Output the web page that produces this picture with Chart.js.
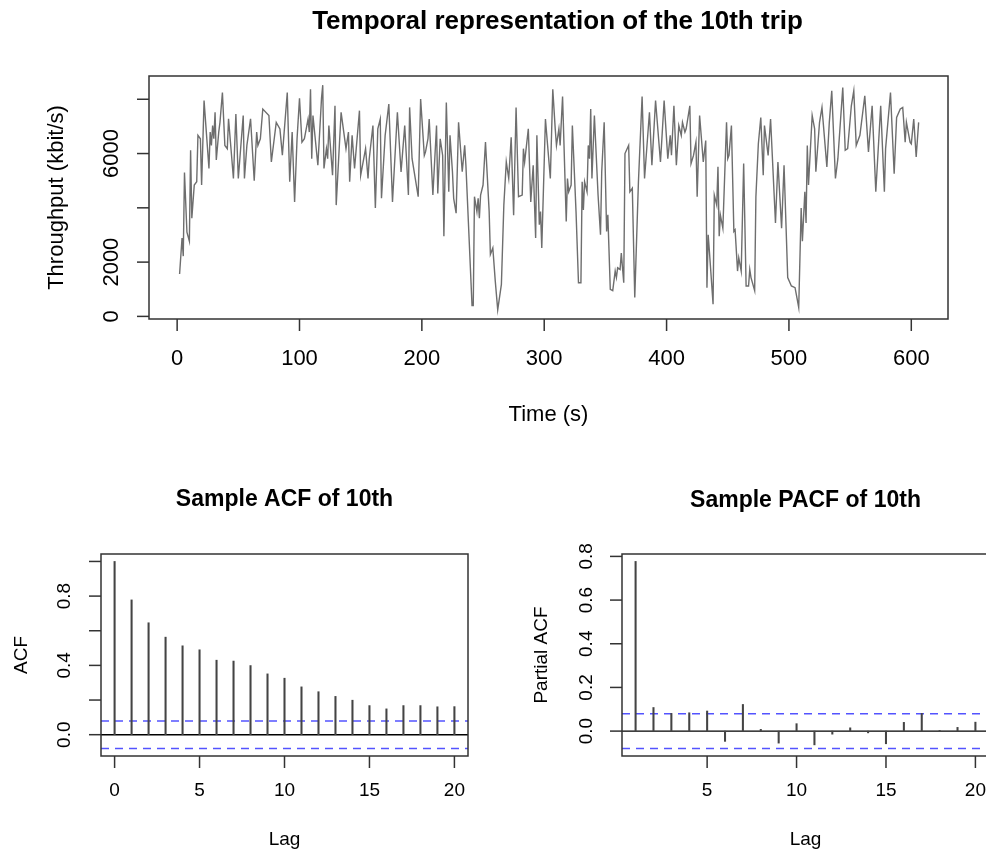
<!DOCTYPE html>
<html>
<head>
<meta charset="utf-8">
<script src="https://cdn.jsdelivr.net/npm/chart.js@4.4.0/dist/chart.umd.min.js"></script>
<style>
  body { margin: 0; background: #fff; }
  #wrap { position: relative; width: 986px; height: 855px; overflow: hidden; background: #fff; }
  canvas { position: absolute; }
</style>
</head>
<body>
<div id="wrap">
  <canvas id="ts" width="986" height="440" style="left:0;top:0;"></canvas>
  <canvas id="acf" width="493" height="415" style="left:0;top:440px;"></canvas>
  <canvas id="pacf" width="510" height="415" style="left:493px;top:440px;"></canvas>
</div>
<script>
// throughput of the 10th trip (seconds, kbit/s)
const tsTime = [2,4,5,6,8,10,11,12,14,16,17,19,20,22,26,27,28,29,30,31,32,34,35,37,39,41,42,46,48,50,54,55,57,60,63,65,66,68,70,75,77,81,84,86,90,92,94,96,
  98,100,102,104,107,108,109,110,111,115,118,119,120,122,123,124,127,129,130,134,138,140,141,143,145,149,150,154,156,157,160,162,164,166,167,170,173,176,180,183,186,189,190,192,197,199,202,203,
  205,206,209,212,213,215,217,218,220,222,223,225,226,228,230,233,235,236,241,242,243,245,246,247,248,250,252,255,256,258,260,262,265,267,269,271,273,275,277,279,282,283,284,287,289,291,293,294,296,297,298,301,305,307,309,
  310,312,313,315,318,319,320,322,323,326,328,330,331,332,333,335,336,337,338,339,341,344,346,347,349,351,352,354,356,358,359,360,362,363,365,366,369,370,372,374,377,380,382,386,388,391,395,396,398,401,403,404,406,408,410,412,413,415,
  416,419,420,422,424,425,427,430,432,433,434,435,438,439,441,442,443,444,446,449,450,451,453,455,456,458,459,461,463,465,467,468,469,472,473,475,477,479,480,483,485,489,491,494,496,499,502,505,508,510,511,513,514,515,516,519,521,
  522,525,527,531,533,535,538,540,544,546,548,551,553,555,558,562,565,568,571,575,578,579,583,586,588,591,593,595,596,599,600,602,604,606];
const tsThroughput = [1560,2890,2220,5300,3100,2770,6120,3620,4840,4960,6670,6545,4840,7950,5450,6790,6300,7030,6545,7520,5760,6790,7150,8250,6300,6180,7280,5080,7460,5080,7400,5080,6300,7280,5000,6790,6300,6545,7640,7400,5690,7150,6910,5940,8250,4960,6790,4220,
  6545,8040,6420,6545,7270,6790,8370,5810,7400,5570,8040,8520,5450,6180,5810,7030,5200,7760,4100,7520,6180,6790,4960,6670,5450,7580,5200,6180,5080,5810,7030,3990,6910,7270,4350,6670,7820,4220,7520,5320,7030,4470,7700,5810,4410,8010,5930,6060,
  6545,7270,4470,7030,4530,6545,5930,2950,7880,4590,6670,5330,4350,3800,7150,5330,6300,5570,400,400,4410,3860,4350,3620,4470,4840,6420,3860,2280,2520,1300,240,1180,4100,5690,5080,6600,3730,7700,4410,4470,6180,5690,6910,4220,5570,2890,6670,3380,3860,2520,7270,5080,8370,6910,
  6300,6910,6300,8100,3500,5080,4590,4840,7030,3860,1240,1240,4960,3920,4960,4590,6300,5810,7640,5080,7400,4470,3010,5330,7150,3130,3740,1000,950,1670,1430,1790,1730,2330,1240,6000,6300,4590,4720,700,4960,8100,5080,7520,5570,7950,5690,6420,7950,5810,6670,5940,7760,5570,7030,6670,7150,6790,
  6910,7760,5630,5930,6420,4410,7400,5690,6480,1060,3010,2400,450,4470,4100,5510,2950,3730,3250,7150,5810,5930,7030,3130,3190,1670,2160,1670,5630,1120,1120,1730,1430,950,4410,6360,7330,5200,7030,5930,7270,3440,5690,3250,5570,1430,1120,1060,330,3990,2770,4590,3440,6300,4840,7400,6910,
  5330,7150,7700,5510,7150,8310,5080,5810,8430,6120,6180,7760,8310,6300,6670,8130,6060,7760,4590,7760,4590,6180,8250,5260,7330,7640,7700,6420,7150,6420,6360,7270,5870,7150];
const tsXTicks = [0, 100, 200, 300, 400, 500, 600];
const tsYTicks = [0, 2000, 4000, 6000, 8000];
const tsYLabels = ['0', '2000', '', '6000', ''];

// sample ACF / PACF
const acfLags = [0,1,2,3,4,5,6,7,8,9,10,11,12,13,14,15,16,17,18,19,20];
const acfValues = [1.0,0.778,0.646,0.563,0.513,0.490,0.430,0.425,0.399,0.351,0.326,0.276,0.248,0.221,0.199,0.168,0.149,0.168,0.168,0.161,0.162];
const acfXTicks = [0, 5, 10, 15, 20];
const acfYTicks = [0, 0.2, 0.4, 0.6, 0.8, 1.0];
const acfYLabels = ['0.0', '', '0.4', '', '0.8', ''];

const pacfLags = [1,2,3,4,5,6,7,8,9,10,11,12,13,14,15,16,17,18,19,20];
const pacfValues = [0.777,0.108,0.081,0.084,0.092,-0.047,0.122,0.008,-0.055,0.034,-0.063,-0.014,0.015,-0.008,-0.058,0.040,0.081,0.003,0.017,0.041];
const pacfXTicks = [5, 10, 15, 20];
const pacfYTicks = [0, 0.2, 0.4, 0.6, 0.8];
const pacfYLabels = ['0.0', '0.2', '0.4', '0.6', '0.8'];

const confBound = 0.0797;

const FONT = '"Liberation Sans", Helvetica, Arial, sans-serif';

// R style frame: box, outward ticks, rotated y labels, titles
function rFrame(o) {
  return {
    id: 'rFrame',
    afterDraw(chart) {
      const ctx = chart.ctx, a = chart.chartArea, x = chart.scales.x, y = chart.scales.y;
      ctx.save();
      ctx.strokeStyle = '#333';
      ctx.lineWidth = 1.5;
      ctx.strokeRect(a.left, a.top, a.right - a.left, a.bottom - a.top);
      ctx.fillStyle = '#000';
      ctx.font = o.size + 'px ' + FONT;
      ctx.textAlign = 'center';
      ctx.textBaseline = 'middle';
      o.xTicks.forEach((v) => {
        const px = x.getPixelForValue(v);
        ctx.beginPath(); ctx.moveTo(px, a.bottom); ctx.lineTo(px, a.bottom + 12); ctx.stroke();
        ctx.fillText(String(v), px, a.bottom + o.xLabOff);
      });
      o.yTicks.forEach((v, i) => {
        const py = y.getPixelForValue(v);
        ctx.beginPath(); ctx.moveTo(a.left, py); ctx.lineTo(a.left - 12, py); ctx.stroke();
        if (o.yLabels[i]) {
          ctx.save();
          ctx.translate(a.left - o.yLabOff, py);
          ctx.rotate(-Math.PI / 2);
          ctx.fillText(o.yLabels[i], 0, 0);
          ctx.restore();
        }
      });
      const cx = (a.left + a.right) / 2, cy = (a.top + a.bottom) / 2;
      ctx.fillText(o.xTitle, cx, a.bottom + o.xTitleOff);
      ctx.save();
      ctx.translate(a.left - o.yTitleOff, cy);
      ctx.rotate(-Math.PI / 2);
      ctx.fillText(o.yTitle, 0, 0);
      ctx.restore();
      ctx.font = 'bold ' + o.titleSize + 'px ' + FONT;
      ctx.fillText(o.title, cx + (o.titleShift || 0), a.top - o.titleOff);
      ctx.restore();
    }
  };
}

const baseOpts = {
  responsive: false,
  animation: false,
  devicePixelRatio: 1,
  plugins: { legend: { display: false }, tooltip: { enabled: false } }
};

// top: time series
new Chart(document.getElementById('ts'), {
  type: 'line',
  data: {
    datasets: [{
      data: tsTime.map((t, i) => ({ x: t, y: tsThroughput[i] })),
      borderColor: '#6e6e6e',
      borderWidth: 1.4,
      pointRadius: 0,
      tension: 0
    }]
  },
  options: Object.assign({}, baseOpts, {
    layout: { padding: { left: 149, top: 76, right: 38, bottom: 121 } },
    scales: {
      x: { type: 'linear', min: -23, max: 630, display: false },
      y: { type: 'linear', min: -96, max: 8857, display: false }
    }
  }),
  plugins: [rFrame({
    size: 22, titleSize: 26, titleShift: 9,
    xTicks: tsXTicks, yTicks: tsYTicks, yLabels: tsYLabels,
    xLabOff: 40, yLabOff: 37, xTitleOff: 96, yTitleOff: 92, titleOff: 54,
    xTitle: 'Time (s)', yTitle: 'Throughput (kbit/s)',
    title: 'Temporal representation of the 10th trip'
  })]
});

function corrChart(id, lags, vals, xMin, xMax, yMin, yMax, frame) {
  new Chart(document.getElementById(id), {
    type: 'bar',
    data: {
      datasets: [
        {
          type: 'bar',
          data: lags.map((l, i) => ({ x: l, y: vals[i] })),
          backgroundColor: '#444',
          barThickness: 1.4
        },
        {
          type: 'line',
          data: [{ x: xMin, y: 0 }, { x: xMax, y: 0 }],
          borderColor: '#000', borderWidth: 1.4, pointRadius: 0
        },
        {
          type: 'line',
          data: [{ x: xMin, y: confBound }, { x: xMax, y: confBound }],
          borderColor: 'rgba(40,40,255,0.8)', borderWidth: 1.5, borderDash: [8, 6], pointRadius: 0
        },
        {
          type: 'line',
          data: [{ x: xMin, y: -confBound }, { x: xMax, y: -confBound }],
          borderColor: 'rgba(40,40,255,0.8)', borderWidth: 1.5, borderDash: [8, 6], pointRadius: 0
        }
      ]
    },
    options: Object.assign({}, baseOpts, {
      layout: { padding: frame.pad },
      scales: {
        x: { type: 'linear', min: xMin, max: xMax, offset: false, display: false },
        y: { type: 'linear', min: yMin, max: yMax, display: false }
      }
    }),
    plugins: [rFrame(frame)]
  });
}

corrChart('acf', acfLags, acfValues, -0.8, 20.8, -0.123, 1.043, {
  pad: { left: 101, top: 114, right: 25, bottom: 99 },
  size: 19, titleSize: 23,
  xTicks: acfXTicks, yTicks: acfYTicks, yLabels: acfYLabels,
  xLabOff: 35, yLabOff: 36, xTitleOff: 84, yTitleOff: 79, titleOff: 54,
  xTitle: 'Lag', yTitle: 'ACF', title: 'Sample ACF of 10th'
});

corrChart('pacf', pacfLags, pacfValues, 0.24, 20.76, -0.114, 0.811, {
  pad: { left: 129, top: 114, right: 14, bottom: 99 },
  size: 19, titleSize: 23,
  xTicks: pacfXTicks, yTicks: pacfYTicks, yLabels: pacfYLabels,
  xLabOff: 35, yLabOff: 35, xTitleOff: 84, yTitleOff: 80, titleOff: 53,
  xTitle: 'Lag', yTitle: 'Partial ACF', title: 'Sample PACF of 10th'
});
</script>
</body>
</html>
